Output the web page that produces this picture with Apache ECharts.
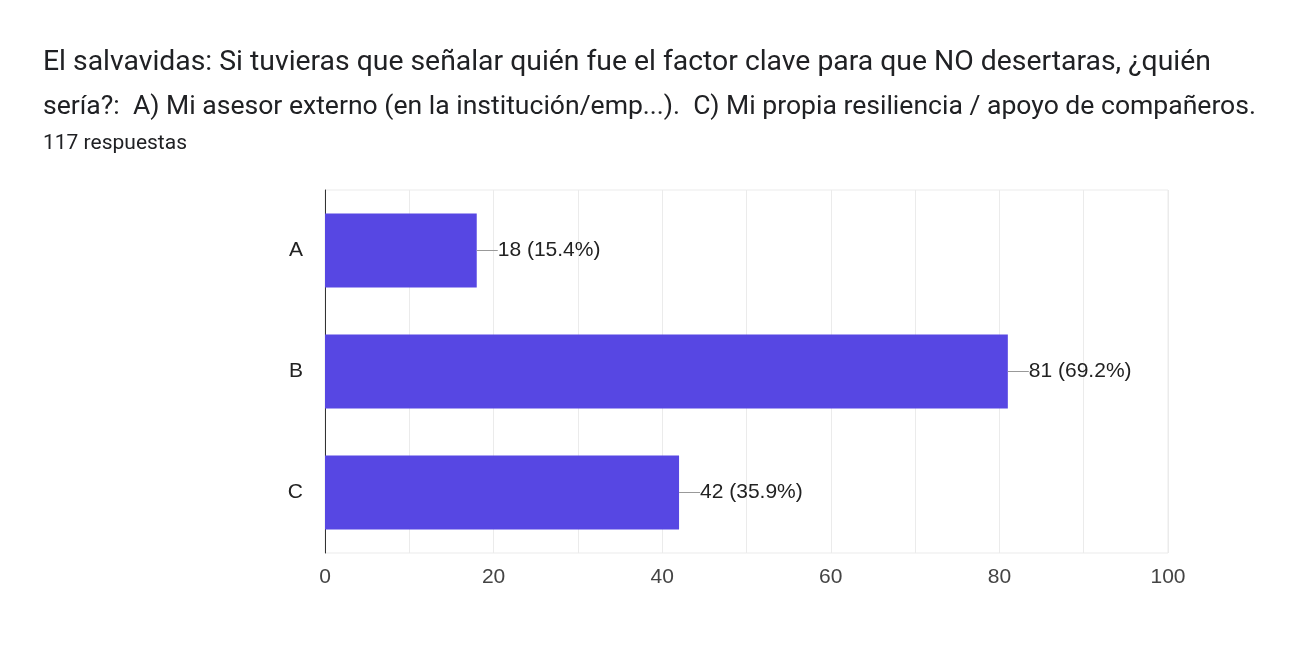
<!DOCTYPE html>
<html>
<head>
<meta charset="utf-8">
<script src="https://cdn.jsdelivr.net/npm/echarts@6/dist/echarts.min.js"></script>
<style>
  html, body { margin: 0; padding: 0; background: #fff; }
  #chart { width: 1299px; height: 660px; }
</style>
</head>
<body>
<div id="chart"></div>
<script>
const titleLines = [
  'El salvavidas: Si tuvieras que señalar quién fue el factor clave para que NO desertaras, ¿quién',
  'sería?:  A) Mi asesor externo (en la institución/emp...).  C) Mi propia resiliencia / apoyo de compañeros.'
];
const subtitle = '117 respuestas';
const totalResponses = 117;
const categories = ['A', 'B', 'C'];
const counts = [18, 81, 42];
const xTicks = [0, 20, 40, 60, 80, 100];

const chart = echarts.init(document.getElementById('chart'));
chart.setOption({
  animation: false,
  textStyle: { fontFamily: 'Roboto, Arial, sans-serif' },
  title: [
    {
      text: '{l1|' + titleLines[0] + '}\n{l2|' + titleLines[1] + '}',
      left: 38, top: 36,
      textStyle: {
        fontWeight: 'normal',
        rich: {
          l1: { fontSize: 28.35, fontWeight: 'normal', color: '#202124', lineHeight: 44, fontFamily: 'Roboto' },
          l2: { fontSize: 26.55, fontWeight: 'normal', color: '#202124', lineHeight: 44, fontFamily: 'Roboto' }
        }
      }
    },
    {
      text: subtitle,
      left: 38, top: 128,
      textStyle: { fontSize: 21, fontWeight: 'normal', color: '#202124', fontFamily: 'Roboto' }
    }
  ],
  grid: {
    left: 325, right: 131, top: 190, bottom: 107,
    show: true, borderColor: '#ebebeb', borderWidth: 1
  },
  xAxis: {
    type: 'value',
    min: xTicks[0], max: xTicks[xTicks.length - 1], interval: 20,
    axisLine: { show: false },
    axisTick: { show: false },
    axisLabel: { fontSize: 21, color: '#444', margin: 14, fontFamily: 'Arial' },
    splitLine: { lineStyle: { color: '#ebebeb' } },
    minorTick: { show: false, splitNumber: 2 },
    minorSplitLine: { show: true, lineStyle: { color: '#ebebeb' } }
  },
  yAxis: {
    type: 'category',
    data: categories,
    inverse: true,
    axisLine: { show: true, lineStyle: { color: '#333', width: 1 } },
    axisTick: { show: false },
    axisLabel: { fontSize: 21, color: '#222', margin: 22, fontFamily: 'Arial' }
  },
  series: [{
    type: 'bar',
    data: counts,
    barCategoryGap: '39%',
    itemStyle: { color: '#5747e3' },
    label: {
      show: true,
      position: 'right',
      distance: 0,
      formatter: p => '{line|}{txt|' + p.value + ' (' + (p.value / totalResponses * 100).toFixed(1) + '%)}',
      rich: {
        line: { width: 21, height: 1, backgroundColor: '#999' },
        txt: { fontSize: 21, color: '#222', fontFamily: 'Arial' }
      }
    }
  }]
});
</script>
</body>
</html>
